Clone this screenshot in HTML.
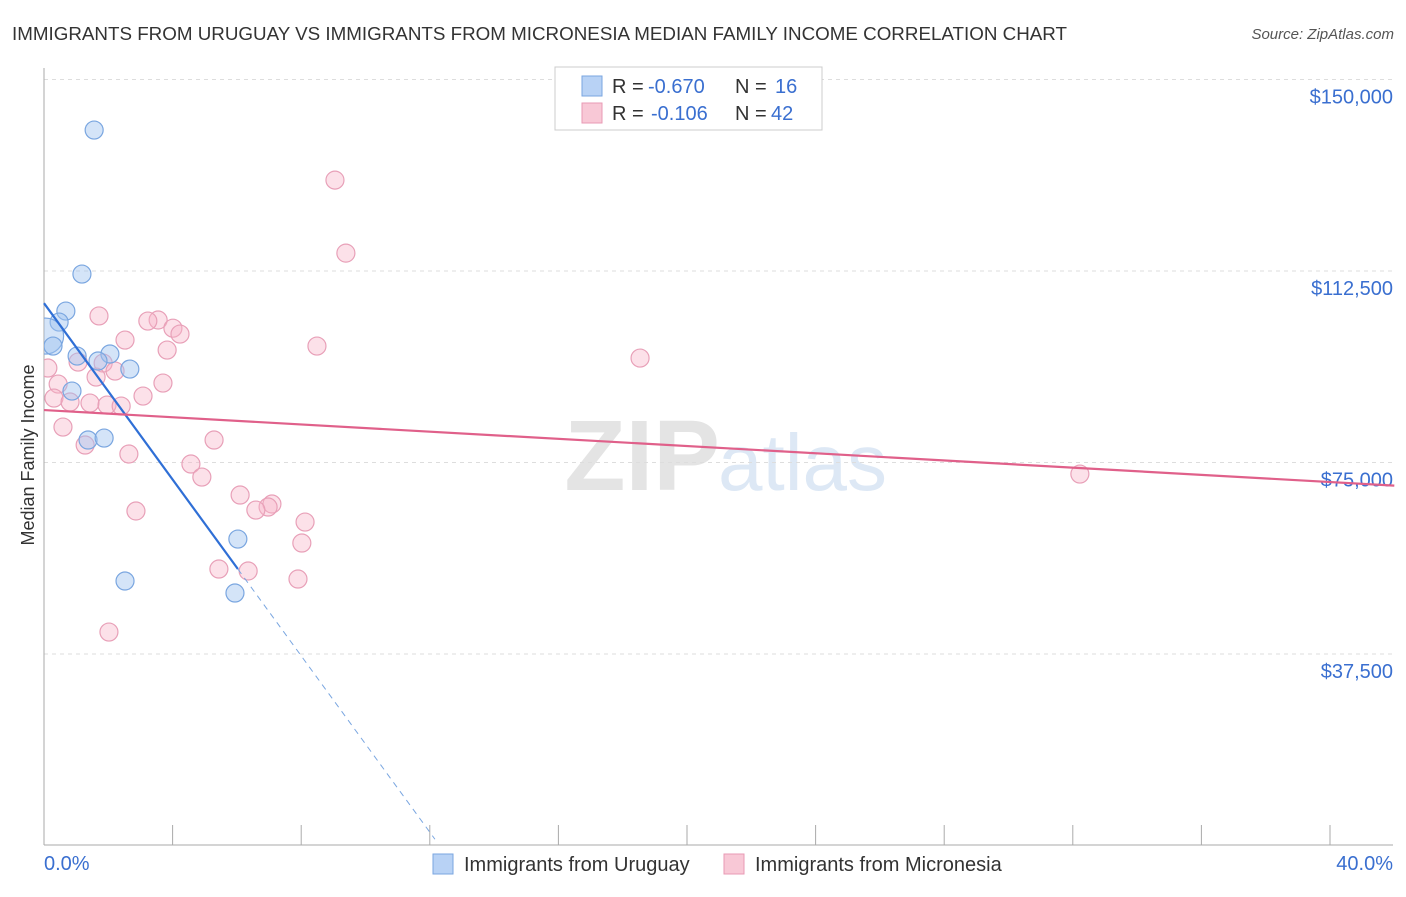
<!DOCTYPE html>
<html><head><meta charset="utf-8"><style>
body{margin:0;background:#fff;font-family:"Liberation Sans",sans-serif;}
svg text{font-family:"Liberation Sans",sans-serif;}
</style></head><body>
<svg id="chart" width="1406" height="892" viewBox="0 0 1406 892" xmlns="http://www.w3.org/2000/svg">
<defs><clipPath id="plotclip"><rect x="44" y="60" width="1360" height="786"/></clipPath></defs>
<text x="12" y="40" font-size="18.8" fill="#333" textLength="1055">IMMIGRANTS FROM URUGUAY VS IMMIGRANTS FROM MICRONESIA MEDIAN FAMILY INCOME CORRELATION CHART</text>
<text x="1394" y="39" font-size="15" fill="#555" text-anchor="end" font-style="italic">Source: ZipAtlas.com</text>
<text x="720" y="490" font-size="100" fill="#e4e4e4" text-anchor="end" font-family="Liberation Serif" font-weight="bold">ZIP</text>
<text x="718" y="490" font-size="80" fill="#dde8f5">atlas</text>
<g id="grid"></g><g id="axes"></g><g id="pts" clip-path="url(#plotclip)"></g><g id="trend"></g>
<text x="34" y="455" font-size="18" fill="#333" text-anchor="middle" transform="rotate(-90 34 455)">Median Family Income</text>
<text x="44" y="870" font-size="20" fill="#3a6fd0">0.0%</text>
<text x="1393" y="870" font-size="20" fill="#3a6fd0" text-anchor="end">40.0%</text>
<g>
<rect x="555" y="67" width="267" height="63" fill="#fff" stroke="#ccc"/>
<rect x="582" y="76" width="20" height="20" fill="#b8d2f5" stroke="#7aa6e0"/>
<text x="612" y="93" font-size="20" fill="#333">R =</text><text x="648" y="93" font-size="20" fill="#3a6fd0">-0.670</text>
<text x="735" y="93" font-size="20" fill="#333">N =</text><text x="775" y="93" font-size="20" fill="#3a6fd0">16</text>
<rect x="582" y="103" width="20" height="20" fill="#f8c8d6" stroke="#e89ab4"/>
<text x="612" y="120" font-size="20" fill="#333">R =</text><text x="651" y="120" font-size="20" fill="#3a6fd0">-0.106</text>
<text x="735" y="120" font-size="20" fill="#333">N =</text><text x="771" y="120" font-size="20" fill="#3a6fd0">42</text>
</g>
<g><rect x="433" y="854" width="20" height="20" fill="#b8d2f5" stroke="#7aa6e0"/><text x="464" y="871" font-size="20" fill="#333">Immigrants from Uruguay</text></g>
<g><rect x="724" y="854" width="20" height="20" fill="#f8c8d6" stroke="#e89ab4"/><text x="755" y="871" font-size="20" fill="#333">Immigrants from Micronesia</text></g>
</svg>
<script>
const yTicks=[37500,75000,112500,150000];
const yTickLabels=["$37,500","$75,000","$112,500","$150,000"];
const uruguayX=[1.56,1.18,0.68,0.47,0.05,0.28,1.03,2.05,1.68,2.67,0.87,1.37,1.87,6.03,2.52,5.94];
const uruguayY=[140100,111900,104650,102500,99760,97800,95840,96240,94870,93300,88990,79400,79790,60010,51790,49440];
const uruguayR=[9,9,9,9,18,9,9,9,9,9,9,9,9,9,9,9];
const microX=[9.05,9.39,1.71,3.55,3.23,4.01,4.23,2.52,8.49,3.83,18.54,0.12,1.06,1.84,2.21,1.62,3.70,0.44,3.08,0.31,0.81,1.43,1.96,2.40,0.59,5.29,1.28,2.64,4.57,4.91,32.22,6.10,7.09,6.97,6.59,2.86,8.12,8.02,5.44,6.35,7.90,2.02];
const microY=[130300,116000,103700,102900,102700,101300,100150,98980,97800,97020,95450,93500,94670,94470,92910,91730,90560,90360,88010,87620,86840,86640,86250,86050,81940,79400,78420,76660,74700,72150,72740,68630,66870,66280,65690,65500,63340,59230,54140,53750,52180,41800];
const uruguayTrend=[106200,-8633];
const microTrend=[85270,-352.5];
const xTicks=[0,4,8,12,16,20,24,28,32,36,40];
const NS="http://www.w3.org/2000/svg";
const X=v=>44+v*32.15, Y=v=>845.5-v/37500*191.5;
function mk(p,t,a){const e=document.createElementNS(NS,t);for(const k in a)e.setAttribute(k,a[k]);document.getElementById(p).appendChild(e);return e;}
yTicks.forEach((t,i)=>{
 const l=mk('grid','line',{x1:44,x2:1393,y1:Y(t),y2:Y(t),stroke:'#ddd','stroke-dasharray':'4 4'});
 
 
 const tx=mk('grid','text',{x:1393,y:Y(t)+24,'font-size':20,fill:'#3a6fd0','text-anchor':'end'});
 tx.textContent=yTickLabels[i];
 
 
});
const ax=mk('axes','line',{x1:44,x2:44,y1:68,y2:845,stroke:'#aaa'});


const bx=mk('axes','line',{x1:44,x2:1393,y1:845,y2:845,stroke:'#aaa'});


xTicks.forEach(t=>{const l=mk('axes','line',{x1:X(t),x2:X(t),y1:825,y2:845,stroke:'#aaa'});
 
 });
microX.forEach((v,i)=>{const c=mk('pts','circle',{cx:X(v),cy:Y(microY[i]),r:9,fill:'rgba(248,180,200,0.4)',stroke:'#e8a0b8','stroke-width':1.2});
 
 });
uruguayX.forEach((v,i)=>{const c=mk('pts','circle',{cx:X(v),cy:Y(uruguayY[i]),r:uruguayR[i],fill:'rgba(160,195,240,0.45)',stroke:'#7aa6e0','stroke-width':1.2});
 
 });
const ut=v=>uruguayTrend[0]+uruguayTrend[1]*v;
const l1=mk('trend','line',{x1:X(0),y1:Y(ut(0)),x2:X(6.03),y2:Y(ut(6.03)),stroke:'#2f6fd6','stroke-width':2.2});


const l2=mk('trend','line',{x1:X(6.03),y1:Y(ut(6.03)),x2:X(12.16),y2:Y(ut(12.16)),stroke:'#7aa6e0','stroke-width':1,'stroke-dasharray':'6 5'});


const mt=v=>microTrend[0]+microTrend[1]*v;
const l3=mk('trend','line',{x1:X(0),y1:Y(mt(0)),x2:X(42),y2:Y(mt(42)),stroke:'#e0608a','stroke-width':2.2});


</script>
</body></html>
